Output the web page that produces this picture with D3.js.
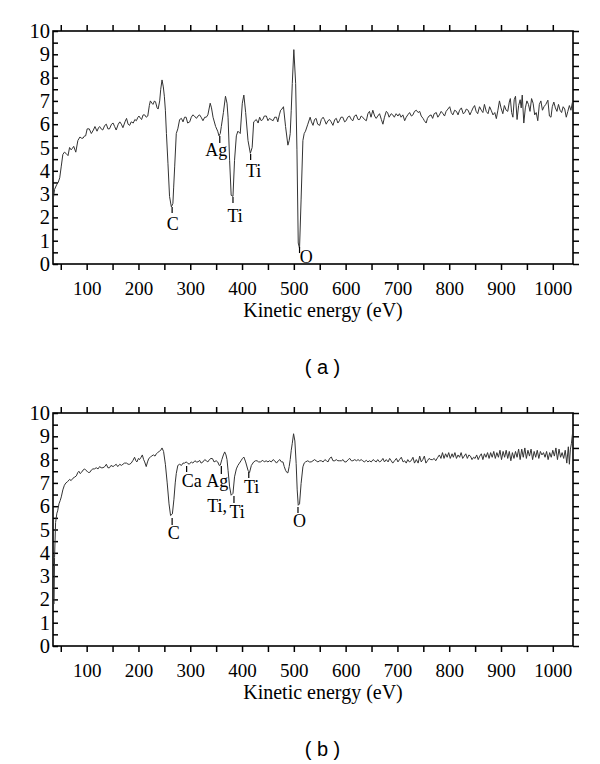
<!DOCTYPE html>
<html>
<head>
<meta charset="utf-8">
<script src="https://cdn.jsdelivr.net/npm/d3@7"></script>
<style>
body{ margin:0; background:#fff; }
svg{ display:block; }
</style>
</head>
<body>
<svg id="chart" width="600" height="764"></svg>
<script>
// energy axis (eV) and intensity axis
var energyDomain = [35, 1039];
var intensityDomain = [0, 10];
var energyTicks = d3.range(50, 1001, 50);
var intensityTicks = d3.range(0, 10.01, 0.5);

// spectrum (a): [kinetic energy eV, intensity]
var spectrumA = [
[35,2.7],[38,3.2],[42,3.4],[45,3.5],[48,3.7],[51,4.2],[54,4.7],[57,4.8],[60,4.75],[64,4.65],
[67,5.0],[70,4.9],[72,4.95],[75,5.05],[79,4.8],[83,5.3],[87,5.45],[90,5.4],[93,5.4],[96,5.5],
[98,5.5],[101,5.8],[105,5.8],[109,5.6],[113,5.75],[116,5.9],[120,5.7],[123,5.85],[125,5.9],[128,5.8],
[131,5.75],[135,5.95],[138,6.0],[141,5.8],[144,5.8],[148,6.0],[151,6.05],[154,5.9],[157,5.75],[161,6.0],
[164,6.1],[167,6.0],[170,5.85],[174,6.1],[177,6.25],[180,6.0],[183,5.95],[186,6.1],[190,6.05],[193,6.2],
[196,6.15],[199,6.3],[201,6.35],[204,6.25],[206,6.2],[209,6.4],[212,6.4],[215,6.3],[218,6.35],[221,6.8],
[223,7.0],[226,6.9],[228,6.85],[231,7.0],[233,6.95],[236,6.7],[238,6.65],[241,7.0],[243,7.5],[245.5,7.9],
[248,7.6],[250,7.2],[252,6.6],[254,5.6],[257,4.3],[260,2.9],[263.5,2.45],[266.5,2.6],[268,3.3],[270,4.2],
[273,5.6],[276,5.8],[279.5,6.2],[283,6.25],[286,6.1],[289,6.3],[292,6.3],[295,6.05],[299,6.1],[302,6.3],
[305,6.4],[308,6.35],[312,6.25],[315,6.35],[318,6.4],[321,6.3],[324.5,6.15],[328,6.3],[331,6.3],[334,6.4],
[338.5,6.9],[341,6.7],[344,6.3],[349,5.9],[353,5.7],[355.5,5.5],[358,5.6],[360,5.9],[364,6.5],[368,7.2],
[371,6.9],[373,6.3],[376,4.45],[379,2.95],[382.5,2.9],[385.5,4.45],[389,5.5],[392,5.7],[396.5,5.6],[400.5,6.9],
[403.5,7.25],[407,6.5],[411.5,5.3],[416,4.75],[419.5,5.0],[422.5,6.1],[425,6.15],[427.5,6.2],[431,6.05],[434,6.3],
[437,6.15],[440,6.2],[443,6.35],[447,6.35],[450,6.15],[453,6.25],[456,6.2],[460,6.15],[463,6.3],[466.5,6.3],
[469,6.1],[472,6.4],[474.5,6.6],[477,6.65],[480,6.75],[484,5.9],[488.5,5.1],[491,5.3],[493,5.6],[495,6.6],
[497,7.75],[500,9.2],[503.5,7.75],[506,4.9],[508.5,0.9],[511,0.67],[514,2.75],[517.5,5.3],[520,5.6],[522.5,5.7],
[527,6.0],[531.5,6.3],[534,6.1],[537,5.95],[540,6.2],[543,6.25],[546,6.0],[550,5.95],[553,6.2],[556.5,6.3],
[559,6.2],[562.5,6.0],[566,6.15],[569,6.2],[572,6.1],[575.5,5.95],[579,6.2],[582,6.25],[585,6.05],[588,6.15],
[591,6.3],[594.5,6.3],[598,6.1],[601,6.15],[604,6.3],[607.5,6.35],[611,6.2],[614,6.15],[617,6.35],[620.5,6.4],
[624,6.2],[627,6.2],[630,6.35],[633,6.3],[636.5,6.2],[640,6.15],[643,6.45],[646,6.55],[649,6.3],[652.5,6.6],
[656,6.35],[659,6.25],[662,6.35],[665.5,6.45],[669,6.2],[672,6.0],[675,6.3],[678.5,6.55],[681,6.5],[684,6.3],
[688,6.45],[691,6.4],[694,6.3],[697.5,6.45],[701,6.35],[704,6.45],[707,6.3],[710.5,6.4],[714,6.15],[717,6.3],
[720,6.4],[723.5,6.5],[727,6.35],[730,6.4],[733,6.55],[736.5,6.6],[740,6.5],[743,6.55],[746,6.35],[749.5,6.25],
[752,6.15],[755.5,6.05],[758,6.25],[761,6.35],[765,6.4],[768,6.25],[771,6.45],[775,6.5],[778,6.3],[781,6.4],
[784.5,6.55],[788,6.45],[791,6.35],[794,6.55],[797.5,6.65],[801,6.75],[804,6.5],[807,6.4],[810.5,6.6],[814,6.55],
[817,6.4],[820,6.6],[823.5,6.7],[827,6.45],[830,6.5],[833,6.65],[836.5,6.6],[840,6.4],[843,6.55],[846,6.7],
[849,6.8],[852,6.55],[855,6.45],[858.5,6.75],[862,6.6],[865,6.5],[868,6.85],[871.5,6.55],[875,6.45],[878,6.75],
[881,6.6],[884.5,6.4],[888,6.5],[891,6.24],[894,6.6],[897,7.0],[900,6.7],[903.5,6.45],[906.5,6.8],[910,6.6],
[913,6.55],[916,6.95],[918,7.1],[920.5,6.5],[923,6.3],[925.5,7.05],[928,7.2],[931,6.2],[934,6.8],[937,7.05],
[939,6.7],[941,7.25],[944,6.05],[947,6.7],[950,7.0],[953,6.85],[956,6.55],[959,7.1],[962,6.9],[965,6.4],
[968,6.5],[971,6.15],[974,6.85],[977,7.0],[980,6.6],[983,6.75],[986.5,6.85],[990.5,7.03],[993.5,6.35],[996.5,6.3],
[999,6.75],[1002,6.95],[1005,6.7],[1008,6.55],[1011,6.85],[1014,6.6],[1017,6.5],[1020,6.75],[1023,6.65],[1026,6.3],
[1029,6.55],[1032,6.8],[1035,6.6],[1038,6.95]
];

// spectrum (b): [kinetic energy eV, intensity]
var spectrumB = [
[37,1.8],[38,3.8],[40,5.3],[42.5,5.7],[44,5.8],[46.5,6.1],[49,6.25],[51,6.4],[54,6.7],[57,6.9],
[60,7.0],[63,7.05],[67,7.15],[70,7.1],[73.5,7.2],[77,7.25],[80,7.3],[83,7.45],[85,7.5],[87.5,7.4],
[90,7.45],[93,7.55],[96,7.6],[98,7.55],[101,7.5],[103,7.45],[106,7.45],[109,7.55],[112,7.6],[115,7.6],
[118.5,7.65],[122,7.6],[125,7.7],[128,7.65],[131.5,7.65],[135,7.7],[138,7.8],[141,7.65],[144,7.65],[147,7.75],
[151,7.7],[154,7.75],[157,7.8],[160,7.7],[164,7.8],[167,7.75],[170,7.8],[173,7.85],[177,7.85],[180,7.8],
[183,7.8],[186,7.85],[189.5,7.97],[192.5,8.1],[195,7.95],[197,7.9],[200,8.05],[202,8.0],[205,8.1],[207.5,8.2],
[210,8.0],[212,7.9],[215,7.7],[217.5,7.9],[220,8.05],[223,8.1],[225,8.15],[229,8.2],[232,8.15],[234.5,8.25],
[237,8.3],[240,8.35],[243,8.4],[245.5,8.5],[248.5,8.35],[252,7.8],[255.5,7.0],[259,6.1],[262,5.6],[265.5,5.67],
[268.5,6.3],[271,7.0],[273,7.4],[276,7.75],[279.5,7.8],[283,7.75],[286,7.85],[289,7.85],[292,7.9],[295,7.85],
[298,7.8],[302,7.9],[305,7.85],[309,7.95],[312,7.9],[315,7.9],[318,7.97],[321,7.85],[324.5,7.9],[328,8.0],
[331,7.95],[334,7.9],[337,8.0],[340,8.05],[343,8.04],[346,7.9],[350,7.95],[353,7.9],[356,7.75],[358,7.76],
[361,8.0],[364,8.2],[366.5,8.33],[369,8.2],[371,8.0],[373,7.54],[376,6.83],[379,6.47],[382.5,6.55],[385.5,7.26],
[389,7.6],[392,7.75],[395,7.85],[398,7.95],[400.5,8.04],[403.5,8.11],[407,7.9],[411.5,7.54],[414.5,7.45],[418,7.75],
[422.5,7.9],[426,7.95],[429,7.95],[432,7.9],[435.5,7.9],[440,7.97],[443,7.9],[446.5,7.95],[450,7.9],[453,7.95],
[456.5,7.9],[460,8.0],[463,7.95],[466.5,7.85],[470,7.95],[473,8.0],[476,7.9],[479,7.9],[481.5,7.7],[484,7.54],
[486.5,7.45],[488.5,7.43],[491,7.7],[493,8.0],[495,8.4],[497,8.7],[499.5,9.11],[502,8.8],[504.5,7.83],[506.5,6.7],
[508.5,6.04],[511,6.1],[514,6.97],[517.5,7.69],[520,7.85],[522.5,7.9],[527,7.95],[530,7.9],[533.5,7.9],[537,7.95],
[540,8.0],[543,7.95],[546.5,7.9],[550,7.95],[553,7.95],[556.5,7.9],[560,8.0],[563,7.95],[566,7.9],[569,8.05],
[572.5,8.11],[575.5,7.95],[579,7.95],[582,8.0],[585,7.95],[588.5,7.95],[592,7.95],[595,8.0],[598,7.9],[601,7.9],
[605,8.0],[608,8.05],[611,7.95],[614,7.95],[617.5,8.0],[621,7.95],[624,8.0],[627,7.95],[630,8.0],[633,7.95],
[636,7.9],[640,7.97],[643,7.9],[646,7.95],[649.5,7.9],[653,8.0],[656,7.95],[659,7.9],[662,8.0],[665.5,7.9],
[669,7.95],[672,8.05],[675,7.9],[678.5,8.0],[682,7.9],[685,8.05],[688,7.95],[691,7.85],[694.5,7.95],[698,8.05],
[701,7.9],[704,8.0],[707.5,8.1],[711,7.9],[714,7.95],[717,7.85],[720,8.0],[723,7.9],[726.5,7.95],[730,8.1],
[733,7.85],[736.5,8.0],[740,7.85],[743,8.15],[746,7.9],[749,8.0],[752,8.15],[755,7.85],[758,7.95],[761,8.05],
[764.5,8.0],[768,8.0],[771,8.05],[774,7.95],[778,8.1],[781,8.2],[784,8.05],[787,8.3],[790,8.05],[793,8.25],
[796,8.1],[799,8.3],[802,8.05],[805.5,8.25],[808,8.1],[811,8.3],[814,8.05],[817,8.2],[820,8.1],[823,8.3],
[826,8.05],[829,8.15],[832,8.25],[835,8.05],[838,8.2],[841,8.15],[844,8.0],[847,8.1],[850,8.05],[853,8.2],
[856,8.0],[859,8.15],[862,8.25],[865,8.0],[868,8.25],[871,8.1],[874,8.3],[877,8.05],[880,8.3],[883,8.1],
[886,8.35],[889,8.05],[892,8.3],[895,8.1],[898,8.4],[901,8.0],[904,8.35],[907,8.1],[910,8.4],[913,8.05],
[916,8.35],[919,7.95],[922,8.3],[925,8.05],[928,8.35],[931,8.1],[934,8.45],[937,8.0],[940,8.45],[943,8.1],
[946,8.5],[949,8.05],[952,8.4],[955,8.15],[958,8.45],[961,8.0],[964,8.35],[967,8.1],[970,8.4],[973,8.05],
[976,8.35],[979,8.2],[982,8.3],[985,8.1],[988,8.35],[991,8.0],[994,8.3],[997,8.1],[1000,8.4],[1003,8.15],
[1006,8.5],[1009,8.0],[1012,8.45],[1015,8.1],[1018,8.3],[1021,8.05],[1024,8.4],[1027,7.85],[1030,8.55],[1032,7.8],
[1034,8.45],[1036,8.7],[1038,9.1]
];

// peak labels: text, marker energy, marker top/bottom, text energy, text baseline level
var peaksA = ['C', 'Ag', 'Ti', 'Ti', 'O'];
var peakEnergyA = [265, 357, 382.5, 416.6, 511];
var peakTopA = [2.45, 5.49, 2.88, 4.72, 0.73];
var peakBottomA = [2.19, 5.19, 2.62, 4.46, 0.47];
var peakTextEnergyA = [266, 350, 386.7, 422.4, 524];
var peakTextLevelA = [1.48, 4.64, 1.82, 3.73, 0.03];

var peaksB = ['C', 'Ca', 'Ag', 'Ti,', 'Ti', 'Ti', 'O'];
var peakEnergyB = [265, 293, 360, null, 384.4, 413, 508];
var peakTopB = [5.49, 7.73, 7.73, null, 6.44, 7.47, 5.97];
var peakBottomB = [5.19, 7.47, 7.38, null, 6.14, 7.21, 5.71];
var peakTextEnergyB = [268, 302.7, 352, 352, 390.5, 418.5, 511];
var peakTextLevelB = [4.61, 6.82, 6.82, 5.75, 5.49, 6.57, 5.11];

var axisTitle = 'Kinetic energy (eV)';
var captions = ['( a )', '( b )'];

/**************************************************************************************/

function Panel(){}

Panel.prototype.setup = function(svg, top, spectrum, peaks, caption){
    this.g = svg.append('g');
    this.left = 53;
    this.right = 573;
    this.top = top;
    this.bottom = top + 233;

    this.x = d3.scaleLinear().domain(energyDomain).range([this.left, this.right]);
    this.y = d3.scaleLinear().domain(intensityDomain).range([this.bottom, this.top]);

    this.drawAxes();
    this.drawSpectrum(spectrum);
    this.drawPeaks(peaks);
    this.drawTitles(caption);
}

Panel.prototype.styleAxis = function(sel, size){
    sel.select('.domain').remove();
    sel.selectAll('.tick line').attr('stroke', '#000').attr('stroke-width', 1.5);
    sel.selectAll('.tick text')
        .attr('fill', '#000')
        .style('font-family', '"Liberation Serif", "Times New Roman", serif')
        .style('font-size', size + 'px');
}

Panel.prototype.drawAxes = function(){
    var self = this;
    var fmtX = function(d){ return d % 100 === 0 ? d : ''; };
    var fmtY = function(d){ return d % 1 === 0 ? d : ''; };

    this.g.append('g').attr('transform', 'translate(0,' + this.bottom + ')')
        .call(d3.axisBottom(this.x).tickValues(energyTicks).tickFormat(fmtX).tickSizeInner(6).tickSizeOuter(0).tickPadding(12))
        .call(function(s){ self.styleAxis(s, 19); });

    this.g.append('g').attr('transform', 'translate(0,' + this.top + ')')
        .call(d3.axisTop(this.x).tickValues(energyTicks).tickFormat('').tickSizeInner(6).tickSizeOuter(0))
        .call(function(s){ self.styleAxis(s, 19); });

    this.g.append('g').attr('transform', 'translate(' + this.left + ',0)')
        .call(d3.axisLeft(this.y).tickValues(intensityTicks).tickFormat(fmtY).tickSizeInner(-5).tickSizeOuter(0).tickPadding(3))
        .call(function(s){ self.styleAxis(s, 20.5); });

    this.g.append('g').attr('transform', 'translate(' + this.right + ',0)')
        .call(d3.axisRight(this.y).tickValues(intensityTicks).tickFormat('').tickSizeInner(6).tickSizeOuter(0))
        .call(function(s){ self.styleAxis(s, 19); });

    this.g.append('rect')
        .attr('x', this.left).attr('y', this.top)
        .attr('width', this.right - this.left).attr('height', this.bottom - this.top)
        .attr('fill', 'none').attr('stroke', '#000').attr('stroke-width', 1.6);
}

Panel.prototype.drawSpectrum = function(spectrum){
    var self = this;
    var line = d3.line()
        .x(function(d){ return self.x(d[0]); })
        .y(function(d){ return self.y(d[1]); });

    this.g.append('path')
        .datum(spectrum)
        .attr('d', line)
        .attr('fill', 'none')
        .attr('stroke', '#333')
        .attr('stroke-width', 1)
        .attr('stroke-linejoin', 'round');
}

Panel.prototype.drawPeaks = function(p){
    var self = this;
    var rows = p.text.map(function(t, i){
        return { text: t, e: p.energy[i], y0: p.top[i], y1: p.bottom[i], te: p.textEnergy[i], tl: p.textLevel[i] };
    });

    this.g.selectAll('line.peak')
        .data(rows.filter(function(d){ return d.e !== null; }))
        .enter().append('line')
        .attr('class', 'peak')
        .attr('x1', function(d){ return self.x(d.e); })
        .attr('x2', function(d){ return self.x(d.e); })
        .attr('y1', function(d){ return self.y(d.y0); })
        .attr('y2', function(d){ return self.y(d.y1); })
        .attr('stroke', '#000').attr('stroke-width', 1.2);

    this.g.selectAll('text.peak')
        .data(rows)
        .enter().append('text')
        .attr('class', 'peak')
        .attr('x', function(d){ return self.x(d.te); })
        .attr('y', function(d){ return self.y(d.tl); })
        .attr('text-anchor', 'middle')
        .style('font-family', '"Liberation Serif", "Times New Roman", serif')
        .style('font-size', '18px')
        .text(function(d){ return d.text; });
}

Panel.prototype.drawTitles = function(caption){
    this.g.append('text')
        .attr('x', 323).attr('y', this.bottom + 53)
        .attr('text-anchor', 'middle')
        .style('font-family', '"Liberation Serif", "Times New Roman", serif')
        .style('font-size', '20px')
        .text(axisTitle);

    this.g.append('text')
        .attr('x', 322.5).attr('y', this.bottom + 110)
        .attr('text-anchor', 'middle')
        .style('font-family', '"Liberation Sans", Arial, sans-serif')
        .style('font-size', '20px')
        .text(caption);
}

/**************************************************************************************/

var svg = d3.select('#chart');

var panelA = new Panel();
panelA.setup(svg, 31, spectrumA,
    { text: peaksA, energy: peakEnergyA, top: peakTopA, bottom: peakBottomA, textEnergy: peakTextEnergyA, textLevel: peakTextLevelA },
    captions[0]);

var panelB = new Panel();
panelB.setup(svg, 413, spectrumB,
    { text: peaksB, energy: peakEnergyB, top: peakTopB, bottom: peakBottomB, textEnergy: peakTextEnergyB, textLevel: peakTextLevelB },
    captions[1]);
</script>
</body>
</html>
